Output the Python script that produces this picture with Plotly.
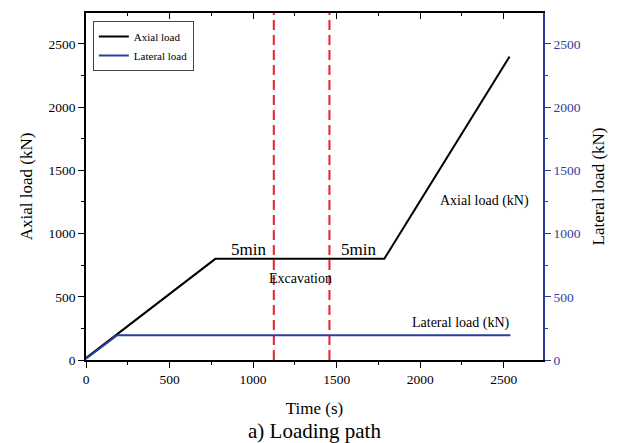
import plotly.graph_objects as go

# Data
axial_t = [0, 774, 1785, 2535]
axial_load = [15, 800, 800, 2400]
lateral_t = [0, 185, 2540]
lateral_load = [10, 195, 195]
excavation_t = [1124, 1457]

x_range = [0, 2735]
y_range = [0, 2745]
ticks = [0, 500, 1000, 1500, 2000, 2500]

FONT = "Liberation Serif, Times New Roman, serif"
BLUE = "#2a3f9d"

fig = go.Figure()
fig.add_trace(go.Scatter(x=axial_t, y=axial_load, mode="lines", name="Axial load",
                         line=dict(color="black", width=2)))
fig.add_trace(go.Scatter(x=lateral_t, y=lateral_load, mode="lines", name="Lateral load",
                         line=dict(color=BLUE, width=2), yaxis="y2"))
for t in excavation_t:
    fig.add_trace(go.Scatter(x=[t, t], y=y_range, mode="lines", showlegend=False,
                             line=dict(color="#e8212a", width=2, dash="10px,5px")))

fig.update_layout(
    width=617, height=443,
    margin=dict(l=86, r=74, t=13, b=83),
    paper_bgcolor="white", plot_bgcolor="white",
    font=dict(family=FONT, color="black", size=13),
    showlegend=True,
    legend=dict(x=0.015, y=0.977, xanchor="left", yanchor="top",
                bordercolor="#444", borderwidth=1, bgcolor="white",
                font=dict(family=FONT, size=11), tracegroupgap=0,
                itemwidth=30),
    xaxis=dict(range=x_range, tickvals=ticks, showgrid=False, zeroline=False,
               showline=True, linecolor="black", linewidth=1.5,
               ticks="outside", ticklen=6, tickwidth=1.3, tickcolor="black",
               minor=dict(ticks="outside", ticklen=3, dtick=250, tickcolor="black"),
               title=dict(text="Time (s)", font=dict(size=17), standoff=16),
               tickfont=dict(size=13.5)),
    xaxis2=dict(range=x_range, overlaying="x", side="top", tickvals=ticks,
                showticklabels=False, showgrid=False, zeroline=False,
                showline=True, linecolor="black", linewidth=1.5,
                ticks="inside", ticklen=6, tickwidth=1.3, tickcolor="black",
                minor=dict(ticks="inside", ticklen=3, dtick=250, tickcolor="black")),
    yaxis=dict(range=y_range, tickvals=ticks, showgrid=False, zeroline=False,
               showline=True, linecolor="black", linewidth=1.5,
               ticks="outside", ticklen=6, tickwidth=1.3, tickcolor="black",
               minor=dict(ticks="outside", ticklen=3, dtick=250, tickcolor="black"),
               title=dict(text="Axial load (kN)", font=dict(size=17), standoff=12),
               tickfont=dict(size=13.5)),
    yaxis2=dict(range=y_range, overlaying="y", side="right", tickvals=ticks,
                showgrid=False, zeroline=False,
                showline=True, linecolor=BLUE, linewidth=1.5,
                ticks="outside", ticklen=6, tickwidth=1.3, tickcolor=BLUE,
                minor=dict(ticks="outside", ticklen=3, dtick=250, tickcolor=BLUE),
                title=dict(text="Lateral load (kN)", font=dict(size=17, color="black"), standoff=12),
                tickfont=dict(size=13.5, color=BLUE)),
)
# dummy trace to activate top axis
fig.add_trace(go.Scatter(x=[None], y=[None], xaxis="x2", showlegend=False))

ann = [
    dict(x=972, y=877, text="5min", size=17),
    dict(x=1633, y=877, text="5min", size=17),
    dict(x=1284, y=646, text="Excavation", size=14),
    dict(x=2383, y=1260, text="Axial load (kN)", size=14),
    dict(x=2245, y=295, text="Lateral load (kN)", size=14),
]
for a in ann:
    fig.add_annotation(x=a["x"], y=a["y"], text=a["text"], showarrow=False,
                       font=dict(family=FONT, size=a["size"], color="black"))
fig.add_annotation(x=0.5, y=-0.205, xref="paper", yref="paper", text="a) Loading path",
                   showarrow=False, yanchor="middle", font=dict(family=FONT, size=21, color="black"))

fig.write_html("out.html")
